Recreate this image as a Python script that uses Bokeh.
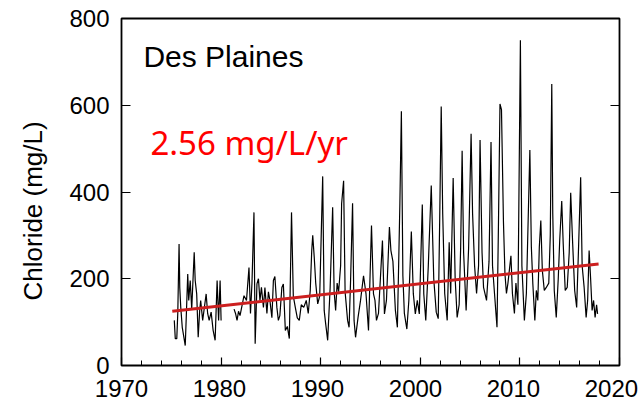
from bokeh.plotting import figure
from bokeh.models import (Range1d, LinearAxis, FixedTicker, SingleIntervalTicker, Label,
                          Title, CustomLabelingPolicy)
from bokeh.embed import file_html
from bokeh.resources import INLINE

nan = float("nan")

# ---- data ----
year = [
    1975.30, 1975.40, 1975.55, 1975.65, 1975.78, 1975.85, 1975.95, 1976.10, 1976.40, 1976.50,
    1976.65, 1976.75, 1976.90, 1977.05, 1977.30, 1977.40, 1977.55, 1977.70, 1977.85, 1977.95,
    1978.15, 1978.50, 1978.65, 1978.80, 1979.00, 1979.20, 1979.40, 1979.60, 1979.75, 1979.90,
    1980.00, 1980.60,
    1981.30, 1981.45, 1981.60, 1981.75, 1981.90, 1982.30, 1982.55, 1982.80, 1982.95, 1983.10,
    1983.30, 1983.42, 1983.60, 1983.75, 1983.90, 1984.05, 1984.25, 1984.40, 1984.60, 1984.75,
    1984.90, 1985.10, 1985.25, 1985.40, 1985.60, 1985.75, 1985.90, 1986.10, 1986.25, 1986.45,
    1986.65, 1986.85, 1987.07, 1987.25, 1987.45, 1987.65, 1987.85, 1988.05, 1988.30, 1988.55,
    1988.75, 1988.95, 1989.10, 1989.20, 1989.35, 1989.50, 1989.70, 1989.90, 1990.20, 1990.35,
    1990.50, 1990.70, 1990.95, 1991.20, 1991.35, 1991.50, 1991.65, 1991.80, 1992.00, 1992.10,
    1992.30, 1992.45, 1992.70, 1992.85, 1993.00, 1993.20, 1993.35, 1993.50, 1993.75, 1994.00,
    1994.30, 1994.55, 1994.80, 1995.10, 1995.30, 1995.45, 1995.60, 1995.80, 1996.20, 1996.40,
    1996.60, 1996.90, 1997.05, 1997.25, 1997.50, 1997.70, 1997.95, 1998.10, 1998.25, 1998.40,
    1998.65, 1998.85, 1999.10, 1999.30, 1999.50, 1999.70, 1999.90, 2000.20, 2000.35, 2000.55,
    2000.80, 2001.10, 2001.35, 2001.60, 2001.80, 2001.95, 2002.10, 2002.25, 2002.45, 2002.70,
    2002.90, 2003.05, 2003.30, 2003.50, 2003.70, 2003.90, 2004.05, 2004.20, 2004.35, 2004.60,
    2004.85, 2005.10, 2005.25, 2005.45, 2005.65, 2005.85, 2006.00, 2006.20, 2006.35, 2006.65,
    2006.90, 2007.10, 2007.25, 2007.45, 2007.70, 2007.85, 2008.00, 2008.15, 2008.35, 2008.50,
    2008.65, 2008.80, 2009.10, 2009.25, 2009.45, 2009.60, 2009.80, 2010.05, 2010.20, 2010.45,
    2010.65, 2011.00, 2011.15, 2011.30, 2011.50, 2011.65, 2011.80, 2011.95, 2012.10, 2012.25,
    2012.45, 2012.65, 2012.90, 2013.05, 2013.20, 2013.30, 2013.45, 2013.65, 2013.85, 2014.00,
    2014.20, 2014.35, 2014.55, 2014.75, 2014.95, 2015.10, 2015.30, 2015.50, 2015.70, 2015.90,
    2016.10, 2016.25, 2016.45, 2016.65, 2016.80, 2016.95, 2017.10, 2017.25, 2017.40, 2017.55,
    2017.70, 2017.80,
]
chloride = [
    104, 62, 62, 120, 280, 180, 134, 88, 46, 110,
    211, 150, 196, 130, 261, 196, 165, 65, 127, 150,
    104, 165, 120, 104, 123, 81, 58, 196, 104, 196,
    104, nan,
    130, 120, 104, 125, 115, 161, 150, 226, 120, 190,
    353, 50, 188, 200, 150, 180, 134, 180, 120, 170,
    150, 110, 196, 205, 134, 104, 115, 180, 188, 81,
    90, 62, 353, 160, 134, 110, 104, 140, 134, 150,
    120, 173, 265, 300, 250, 190, 142, 160, 436, 127,
    96, 58, 180, 365, 170, 127, 190, 170, 230, 373,
    426, 170, 104, 88, 196, 374, 104, 65, 111, 150,
    207, 165, 81, 323, 165, 150, 104, 120, 288, 119,
    150, 319, 265, 240, 127, 88, 374, 586, 207, 120,
    84, 150, 309, 165, 119, 150, 119, 371, 165, 104,
    228, 415, 200, 123, 108, 340, 597, 350, 166, 104,
    284, 166, 432, 200, 111, 140, 270, 495, 260, 127,
    270, 534, 350, 230, 166, 230, 520, 260, 180, 150,
    240, 515, 230, 166, 88, 330, 603, 590, 330, 211,
    166, 190, 253, 166, 120, 190, 140, 750, 230, 104,
    166, 497, 273, 188, 104, 173, 150, 273, 334, 220,
    173, 180, 190, 300, 649, 350, 173, 111, 200, 290,
    379, 280, 173, 180, 260, 398, 280, 173, 134, 280,
    434, 230, 180, 111, 150, 265, 200, 127, 150, 111,
    140, 119,
]

trend_year = [1975.1, 2017.9]
trend_value = [125, 234]

x_ticks = [1970, 1980, 1990, 2000, 2010, 2020]
y_ticks = [0, 200, 400, 600, 800]

site_name = "Des Plaines"
slope_text = "2.56 mg/L/yr"
y_title = "Chloride (mg/L)"

# ---- figure ----
p = figure(width=640, height=407,
           x_range=Range1d(1970, 2020), y_range=Range1d(0, 800),
           output_backend="svg", toolbar_location=None,
           min_border_left=121, min_border_right=21,
           min_border_top=18, min_border_bottom=42)
p.extra_x_ranges = {"lab": Range1d(1970, 2020.82)}

p.background_fill_color = "white"
p.border_fill_color = "white"
p.grid.visible = False
p.outline_line_color = "black"
p.outline_line_width = 1.8

NO_LABELS = "for (let i = 0; i < indices.size; i++) { indices.unset(i) } return indices"

# bottom axis: ticks only (inward)
xa = p.xaxis[0]
xa.ticker = SingleIntervalTicker(interval=10, num_minor_ticks=5)
xa.axis_line_color = None
xa.major_tick_in = 8
xa.major_tick_out = 0
xa.minor_tick_in = 5
xa.minor_tick_out = 0
xa.major_tick_line_color = "black"
xa.minor_tick_line_color = "black"
xa.major_tick_line_width = 1.2
xa.minor_tick_line_width = 1.0
xa.major_label_policy = CustomLabelingPolicy(code=NO_LABELS)
xa.major_label_text_font_size = "0px"
xa.major_label_standoff = 0

# bottom label axis
xl = LinearAxis(x_range_name="lab", ticker=FixedTicker(ticks=x_ticks))
xl.axis_line_color = None
xl.major_tick_line_color = None
xl.minor_tick_line_color = None
xl.major_tick_in = 0
xl.major_tick_out = 0
xl.major_label_standoff = 14
xl.major_label_text_font = "Liberation Sans"
xl.major_label_text_font_size = "24px"
xl.major_label_text_color = "black"
p.add_layout(xl, "below")

# left axis
ya = p.yaxis[0]
ya.ticker = FixedTicker(ticks=y_ticks)
ya.axis_line_color = None
ya.major_tick_in = 9
ya.major_tick_out = 0
ya.major_tick_line_color = "black"
ya.major_tick_line_width = 1.2
ya.minor_tick_line_color = None
ya.major_label_standoff = 12
ya.major_label_text_font = "Liberation Sans"
ya.major_label_text_font_size = "24px"
ya.major_label_text_color = "black"

# right axis: inward ticks only
yr = LinearAxis(ticker=FixedTicker(ticks=[200, 400, 600]))
yr.axis_line_color = None
yr.major_tick_in = 9
yr.major_tick_out = 0
yr.major_tick_line_color = "black"
yr.major_tick_line_width = 1.2
yr.minor_tick_line_color = None
yr.major_label_policy = CustomLabelingPolicy(code=NO_LABELS)
yr.major_label_text_font_size = "0px"
yr.major_label_standoff = 0
p.add_layout(yr, "right")

# y-axis title (shifted along the axis like in the reference)
p.add_layout(Title(text=y_title, align="left", vertical_align="top", offset=65, standoff=33,
                   text_font="Liberation Sans", text_font_size="26px",
                   text_font_style="normal", text_color="black"), "left")

# data
p.line(year, chloride, line_color="black", line_width=1.2)
p.line(trend_year, trend_value, line_color="#cc1f1f", line_width=3)

# texts
p.add_layout(Label(x=1972.2, y=712, text=site_name, text_font="Liberation Sans",
                   text_font_size="30px", text_color="black",
                   text_baseline="alphabetic", text_align="left"))
p.add_layout(Label(x=1972.9, y=514, text=slope_text, text_font="Noto Sans",
                   text_font_size="33px", text_color="#ff0000",
                   text_baseline="alphabetic", text_align="left"))

open("out.html", "w").write(file_html(p, INLINE))
